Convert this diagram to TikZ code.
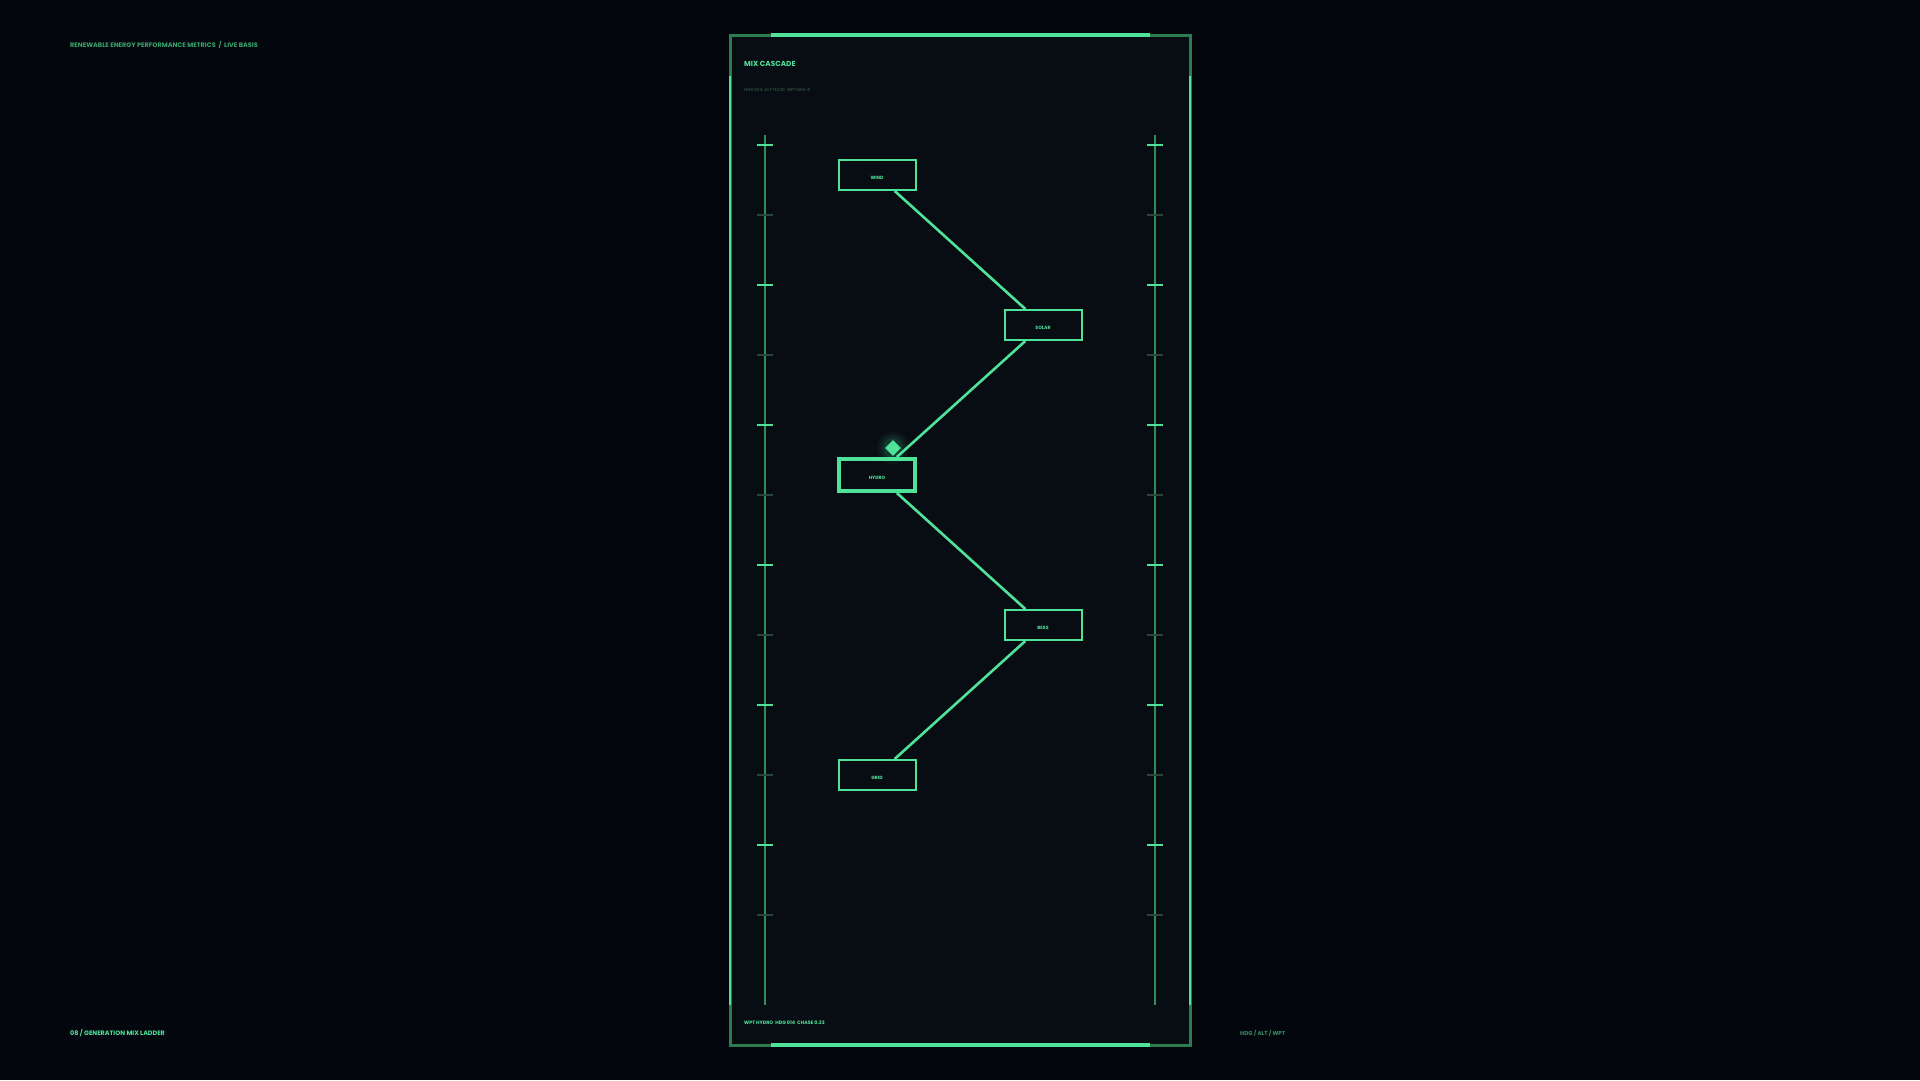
\documentclass[tikz,border=0pt]{standalone}
\usepackage{fontspec}
\setmainfont{Poppins}
\usetikzlibrary{shapes.geometric}
\definecolor{bgc}{HTML}{03060C}
\definecolor{panelc}{HTML}{080D13}
\definecolor{bright}{HTML}{4FE39A}
\definecolor{darkframe}{HTML}{2B7D4F}
\definecolor{railc}{HTML}{2F8F58}
\definecolor{minorc}{HTML}{2A4636}
\definecolor{hdrc}{HTML}{3AA56C}
\definecolor{subc}{HTML}{274334}
\definecolor{dimc}{HTML}{3A8F62}
\tikzset{
  box/.style={draw=bright, line width=2pt, fill=panelc, minimum width=77pt, minimum height=30pt, inner sep=0pt, text height=9pt, text depth=0pt, text=bright, font=\fontsize{4.6}{5}\selectfont\bfseries},
  hbox/.style={box, line width=4pt, minimum width=76pt, minimum height=32pt, text height=8pt},
  conn/.style={draw=bright, line width=2.6pt},
  rail/.style={draw=railc, line width=2.5pt},
  majtick/.style={draw=bright, line width=1.8pt},
  mintick/.style={draw=minorc, line width=1.6pt},
  lbl/.style={anchor=west, inner sep=0pt, font=\bfseries},
}
\begin{document}
\begin{tikzpicture}[x=1pt,y=-1pt]
\useasboundingbox (0,0) rectangle (1920,1080);
\fill[bgc] (0,0) rectangle (1920,1080);
% panel
\fill[panelc] (730,35) rectangle (1190,1045);
\draw[darkframe, line width=3pt] (730,35) rectangle (1190,1045);
\draw[bright, line width=3.5pt] (771,35) -- (1150,35);
\draw[bright, line width=3.5pt] (771,1045) -- (1150,1045);
\draw[bright, line width=2.6pt] (730,76) -- (730,1005);
\draw[bright, line width=2.6pt] (1190,76) -- (1190,1005);
% rails
\draw[rail] (765,135) -- (765,1005);
\draw[rail] (1155,135) -- (1155,1005);
\foreach \y in {145,285,425,565,705,845} {
  \draw[majtick] (757,\y) -- (773,\y);
  \draw[majtick] (1147,\y) -- (1163,\y);
}
\foreach \y in {215,355,495,635,775,915} {
  \draw[mintick] (757,\y) -- (773,\y);
  \draw[mintick] (1147,\y) -- (1163,\y);
}
% texts
\node[lbl, text=hdrc, font=\fontsize{6.5}{7}\selectfont\bfseries] (hdr) at (70,45) {RENEWABLE ENERGY PERFORMANCE METRICS \ / \ LIVE BASIS};
\node[lbl, text=bright, font=\fontsize{7.3}{8}\selectfont\bfseries] (title) at (744,64) {MIX CASCADE};
\node[lbl, text=subc, font=\fontsize{4.2}{5}\selectfont\bfseries] (sub) at (744,90) {HDG 024 \ ALT FL030 \ WPT MIX-0};
\node[lbl, text=bright, font=\fontsize{4.8}{5}\selectfont\bfseries] (foot) at (744,1023) {WPT HYDRO \ HDG 014 \ CHASE 0.33};
\node[lbl, text=bright, font=\fontsize{6.4}{7}\selectfont\bfseries] (fl) at (70,1033) {08 / GENERATION MIX LADDER};
\node[lbl, text=dimc, font=\fontsize{5.6}{6}\selectfont\bfseries] (fr) at (1240,1033) {HDG / ALT / WPT};
% nodes
\node[box] (wind) at (877,175) {WIND};
\node[box] (solar) at (1043,325) {SOLAR};
\node[hbox] (hydro) at (877,475) {HYDRO};
\node[box] (bess) at (1043,625) {BESS};
\node[box] (grid) at (877,775) {GRID};
\draw[conn] (wind) -- (solar);
\draw[conn] (solar) -- (hydro);
\draw[conn] (hydro) -- (bess);
\draw[conn] (bess) -- (grid);
% marker with glow
\foreach \r/\o in {16/0.05,13/0.07,10/0.1} {
  \fill[bright, opacity=\o] (893,448) circle (\r);
}
\node[diamond, fill=bright, minimum width=16pt, minimum height=16pt, inner sep=0pt] (mark) at (893,448) {};
\end{tikzpicture}
\end{document}
